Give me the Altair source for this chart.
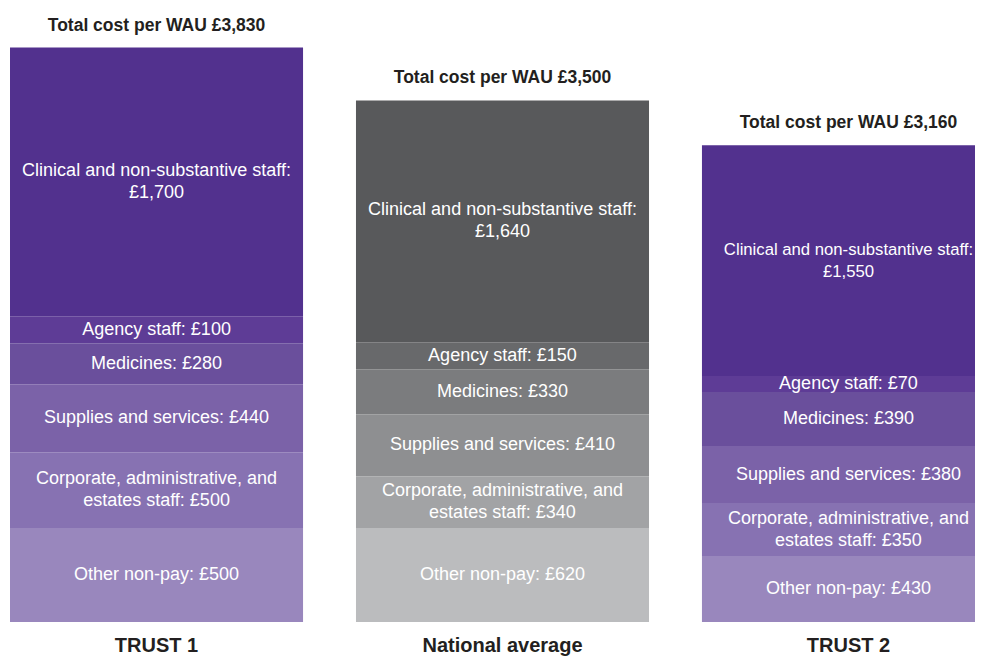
import altair as alt
import pandas as pd

FONT = "Liberation Sans, Arial, Helvetica, sans-serif"

bars = ["TRUST 1", "National average", "TRUST 2"]

# categories listed top to bottom of each stack
categories = [
    "Clinical and non-substantive staff",
    "Agency staff",
    "Medicines",
    "Supplies and services",
    "Corporate, administrative, and estates staff",
    "Other non-pay",
]
label_templates = [
    "Clinical and non-substantive staff:\n£{v}",
    "Agency staff: £{v}",
    "Medicines: £{v}",
    "Supplies and services: £{v}",
    "Corporate, administrative, and\nestates staff: £{v}",
    "Other non-pay: £{v}",
]

# stated values (labels)
trust1_values = [1700, 100, 280, 440, 500, 500]
national_values = [1640, 150, 330, 410, 340, 620]
trust2_values = [1550, 70, 390, 380, 350, 430]

# segment sizes as drawn in the picture (in £ per WAU)
trust1_drawn = [1792, 180, 273, 453, 506, 626]
national_drawn = [1612, 180, 300, 413, 346, 626]
trust2_drawn = [1539, 107, 360, 380, 353, 440]

totals = [3830, 3500, 3160]

purple = ["#52318e", "#5e3c96", "#6a4f9c", "#7b62a8", "#8772b2", "#9987bd"]
gray = ["#58595b", "#68696b", "#7b7c7e", "#8e8f91", "#a2a3a5", "#bbbcbe"]
palettes = [purple, gray, purple]

values = [trust1_values, national_values, trust2_values]
drawn = [trust1_drawn, national_drawn, trust2_drawn]

rows = []
keys, colors = [], []
n = len(categories)
for bi, bar in enumerate(bars):
    for ci, cat in enumerate(categories):
        key = f"{bar}|{cat}"
        keys.append(key)
        colors.append(palettes[bi][ci])
        label = label_templates[ci].format(v=f"{values[bi][ci]:,}")
        rows.append(
            dict(
                bar=bar,
                category=cat,
                drawn=drawn[bi][ci],
                value=values[bi][ci],
                order=n - 1 - ci,
                key=key,
                label=label,
                lines=label.count("\n") + 1,
                title=f"Total cost per WAU £{totals[bi]:,}",
            )
        )
df = pd.DataFrame(rows)

x_enc = alt.X(
    "bar:N",
    sort=bars,
    scale=alt.Scale(paddingInner=0.153, paddingOuter=0, range=[0, 985]),
    axis=alt.Axis(
        title=None,
        labelAngle=0,
        domain=False,
        ticks=False,
        labelPadding=13,
        labelFontSize=20,
        labelFontWeight="bold",
        labelColor="#231f20",
        labelFont=FONT,
    ),
)
y_scale = alt.Scale(domain=[0, 4000], nice=False)

base = alt.Chart(df)

bar_layer = base.mark_bar().encode(
    x=x_enc,
    y=alt.Y("drawn:Q", stack="zero", scale=y_scale, axis=None),
    color=alt.Color("key:N", scale=alt.Scale(domain=keys, range=colors), legend=None),
    order=alt.Order("order:Q", sort="ascending"),
)

stacked = base.transform_stack(
    stack="drawn",
    as_=["y0", "y1"],
    groupby=["bar"],
    sort=[alt.SortField("order", order="ascending")],
).transform_calculate(mid="(datum.y0 + datum.y1) / 2")

# the rightmost bar runs past the page edge; its longest label is set a touch
# smaller so that it stays readable inside the page
edge_label = "datum.bar == 'TRUST 2' && datum.lines == 2 && datum.order == 5"


def label_layer(n_lines, dy):
    return (
        stacked.transform_filter(f"datum.lines == {n_lines}")
        .mark_text(
            color="white",
            font=FONT,
            lineBreak="\n",
            lineHeight=22,
            baseline="middle",
            align="center",
            dy=dy,
        )
        .encode(
            x=x_enc,
            y=alt.Y("mid:Q", scale=y_scale, axis=None),
            text="label:N",
            size=alt.condition(edge_label, alt.value(16.7), alt.value(18)),
        )
    )


single_layer = label_layer(1, 0)
double_layer = label_layer(2, -11)

title_layer = (
    base.transform_aggregate(top="sum(drawn)", groupby=["bar", "title"])
    .mark_text(
        color="#231f20",
        font=FONT,
        fontSize=17.5,
        fontWeight="bold",
        baseline="alphabetic",
        align="center",
        dy=-17,
    )
    .encode(
        x=x_enc,
        y=alt.Y("top:Q", scale=y_scale, axis=None),
        text="title:N",
    )
)

chart = (
    alt.layer(bar_layer, single_layer, double_layer, title_layer)
    .properties(
        width=965,
        height=600,
        autosize=alt.AutoSizeParams(type="none"),
        padding={"left": 2, "top": 14, "right": 0, "bottom": 34},
        background="white",
    )
    .configure_view(stroke=None)
)

chart.save("out.html", embed_options={"renderer": "svg", "actions": False})
